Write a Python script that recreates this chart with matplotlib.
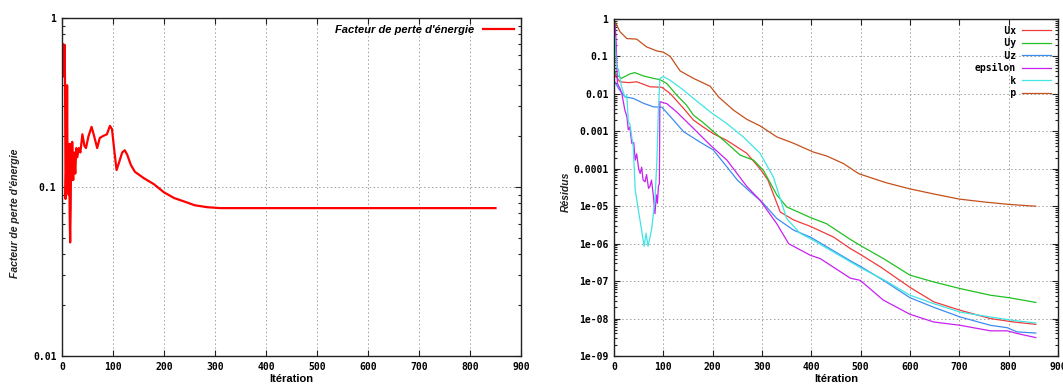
import numpy as np
import matplotlib
matplotlib.use("Agg")
import matplotlib.pyplot as plt
from matplotlib.ticker import LogLocator, FixedLocator, NullFormatter

# ---------------- data ----------------
# Left: energy loss factor
loss_it = [0, 1, 2, 3, 4, 5, 6, 7, 8, 9, 10, 11, 12, 13, 14, 15, 16, 17, 18, 19,
           20, 21, 22, 23, 24, 26, 28, 30, 33, 36, 40, 44, 47, 52, 58, 63, 69, 74,
           80, 88, 94, 98, 103, 107, 112, 118, 123, 128, 135, 143, 160, 180, 200,
           220, 240, 260, 284, 310, 400, 500, 600, 700, 800, 850]
loss_val = [0.60, 0.55, 0.50, 0.70, 0.45, 0.69, 0.40, 0.085, 0.12, 0.10, 0.40, 0.10,
            0.17, 0.09, 0.18, 0.07, 0.047, 0.075, 0.18, 0.11, 0.185, 0.13, 0.11,
            0.15, 0.16, 0.12, 0.17, 0.15, 0.17, 0.16, 0.205, 0.175, 0.17, 0.20,
            0.227, 0.20, 0.17, 0.195, 0.20, 0.205, 0.23, 0.22, 0.16, 0.126, 0.14,
            0.16, 0.165, 0.155, 0.135, 0.123, 0.113, 0.104, 0.093, 0.086, 0.082,
            0.078, 0.076, 0.075, 0.075, 0.075, 0.075, 0.075, 0.075, 0.075]

# Right: residuals
ux_it = [0, 3, 12, 30, 46, 60, 73, 97, 114, 141, 161, 181, 201, 229, 269, 296, 312,
         337, 364, 398, 445, 479, 499, 540, 600, 648, 702, 763, 810, 855]
ux_val = [0.04, 0.03, 0.021, 0.02, 0.021, 0.018, 0.0155, 0.015, 0.0102, 0.0041, 0.002,
          0.0013, 0.00087, 0.00057, 0.00026, 0.0001, 5e-5, 7e-6, 4.3e-6, 2.9e-6,
          1.5e-6, 7.4e-7, 5.2e-7, 2.4e-7, 6.8e-8, 2.8e-8, 1.66e-8, 1e-8, 8.1e-9, 7e-9]

uy_it = [0, 5, 15, 32, 42, 60, 80, 93, 107, 127, 147, 161, 181, 201, 229, 256, 283,
         303, 330, 350, 398, 431, 479, 499, 546, 600, 648, 702, 763, 801, 855]
uy_val = [0.045, 0.032, 0.026, 0.034, 0.037, 0.030, 0.026, 0.024, 0.019, 0.0093,
          0.005, 0.0027, 0.0017, 0.001, 0.00048, 0.00023, 0.00017, 9e-5, 2e-5, 9.6e-6,
          5e-6, 3.4e-6, 1.3e-6, 9e-7, 4e-7, 1.44e-7, 9.5e-8, 6.3e-8, 4.2e-8, 3.6e-8,
          2.7e-8]

uz_it = [0, 9, 22, 39, 60, 80, 97, 114, 141, 174, 201, 229, 250, 275, 300, 330, 364,
         398, 479, 499, 546, 600, 648, 702, 763, 797, 817, 855]
uz_val = [0.023, 0.014, 0.0083, 0.0076, 0.0056, 0.0045, 0.0044, 0.0025, 0.00098,
          0.00052, 0.00032, 0.000112, 5e-5, 2.5e-5, 1.3e-5, 4.7e-6, 2.3e-6, 1.5e-6,
          3.5e-7, 2.5e-7, 1.05e-7, 3.6e-8, 2e-8, 1.1e-8, 6.6e-9, 5.7e-9, 4.4e-9, 4.1e-9]

eps_it = [0, 2, 4, 7, 12, 16, 22, 26, 29, 32, 36, 40, 43, 46, 50, 53, 56, 59, 63, 66,
          70, 73, 76, 80, 83, 86, 88, 90, 92, 93, 100, 107, 127, 161, 195, 229, 269,
          296, 330, 354, 398, 418, 479, 499, 546, 600, 648, 702, 763, 797, 817, 855]
eps_val = [0.7, 0.8, 0.3, 0.019, 0.014, 0.01, 0.0037, 0.0025, 0.0011, 0.0013, 0.00048,
           0.0005, 0.00017, 0.00025, 0.0001, 7.5e-5, 1.1e-4, 5e-5, 4.5e-5, 7e-5, 3e-5,
           3.4e-5, 5e-5, 1.8e-5, 6.3e-6, 2e-5, 1.2e-5, 3.4e-5, 4e-5, 0.0062, 0.0058,
           0.0055, 0.0033, 0.0012, 0.00043, 0.00017, 3.4e-5, 1.45e-5, 3.4e-6, 1e-6,
           4.9e-7, 4e-7, 1.2e-7, 1.05e-7, 3.1e-8, 1.3e-8, 8.1e-9, 6.6e-9, 4.7e-9,
           4.7e-9, 4e-9, 3.1e-9]

k_it = [0, 2, 5, 9, 12, 15, 22, 26, 29, 32, 39, 43, 50, 56, 61, 65, 69, 76, 83, 87,
        90, 93, 100, 114, 141, 161, 195, 229, 262, 296, 323, 350, 377, 404, 499, 546,
        600, 648, 702, 763, 810, 855]
k_val = [0.4, 0.3, 0.053, 0.045, 0.027, 0.016, 0.0083, 0.009, 0.0018, 0.0016, 0.00039,
         2.7e-5, 7e-6, 2.3e-6, 8.5e-7, 1.9e-6, 8.5e-7, 2.3e-6, 1.45e-5, 0.00017,
         0.0037, 0.026, 0.029, 0.023, 0.0126, 0.0076, 0.0033, 0.0016, 0.00071,
         0.00026, 6e-5, 4.7e-6, 1.9e-6, 1.23e-6, 2.3e-7, 1.1e-7, 4.2e-8, 2.5e-8,
         1.48e-8, 1.1e-8, 8.9e-9, 7.6e-9]

p_it = [0, 3, 12, 26, 46, 66, 87, 100, 114, 134, 161, 195, 212, 242, 269, 296, 330,
        364, 404, 431, 465, 496, 550, 600, 650, 700, 750, 800, 855]
p_val = [0.69, 0.8, 0.46, 0.30, 0.29, 0.18, 0.14, 0.13, 0.10, 0.041, 0.026, 0.016,
         0.0083, 0.0037, 0.0021, 0.0014, 0.00071, 0.00048, 0.00028, 0.00022, 0.000138,
         7.4e-5, 4.3e-5, 2.9e-5, 2.1e-5, 1.55e-5, 1.3e-5, 1.12e-5, 1e-5]

series = [("Ux", ux_it, ux_val, "#f03c3c"),
          ("Uy", uy_it, uy_val, "#22c022"),
          ("Uz", uz_it, uz_val, "#3c8cf0"),
          ("epsilon", eps_it, eps_val, "#c820f0"),
          ("k", k_it, k_val, "#40e4e4"),
          ("p", p_it, p_val, "#c4501c")]

xticks = [0, 100, 200, 300, 400, 500, 600, 700, 800, 900]
left_yticks = [0.01, 0.1, 1]
left_ylabels = ["0.01", "0.1", "1"]
right_yticks = [1e-9, 1e-8, 1e-7, 1e-6, 1e-5, 1e-4, 1e-3, 1e-2, 1e-1, 1]
right_ylabels = ["1e-09", "1e-08", "1e-07", "1e-06", "1e-05", "0.0001", "0.001",
                 "0.01", "0.1", "1"]

# ---------------- figure ----------------
W, H = 1063, 387
fig = plt.figure(figsize=(W / 100, H / 100), dpi=100)

mono = dict(family="DejaVu Sans Mono", weight="bold", size=7)


def px(x0, y0, x1, y1):
    return [x0 / W, 1 - y1 / H, (x1 - x0) / W, (y1 - y0) / H]


def style_axes(ax, yticks, ylabels):
    ax.set_yscale("log")
    ax.set_xlim(0, 900)
    ax.set_xticks(xticks)
    ax.set_xticklabels([str(t) for t in xticks], **mono)
    ax.yaxis.set_major_locator(FixedLocator(yticks))
    ax.set_yticklabels(ylabels, **mono)
    ax.yaxis.set_minor_locator(LogLocator(base=10, subs=np.arange(2, 10), numticks=50))
    ax.yaxis.set_minor_formatter(NullFormatter())
    ax.tick_params(which="both", direction="in", top=True, right=True, color="#222222")
    ax.tick_params(which="major", length=4, width=0.8, pad=4)
    ax.tick_params(which="minor", length=2, width=0.8)
    ax.grid(True, which="major", linestyle=(0, (1.5, 2.5)), color="#a0a0a0", linewidth=0.7)
    for s in ax.spines.values():
        s.set_linewidth(1.0)
        s.set_color("#222222")


# Left chart
ax1 = fig.add_axes(px(62, 18, 521, 356))
ax1.plot(loss_it, loss_val, color="#ff0000", linewidth=1.6)
ax1.set_ylim(0.01, 1)
style_axes(ax1, left_yticks, left_ylabels)
ax1.set_xlabel("Itération", family="Liberation Sans", weight="bold", size=8, labelpad=2)
fig.text(15 / W, 1 - 213 / H, "Facteur de perte d'énergie", rotation=90,
         ha="center", va="center", family="Liberation Sans", style="italic",
         weight="bold", size=7.5, color="#222222")
ax1.legend(["Facteur de perte d'énergie"], loc="upper right", frameon=False,
           prop=dict(family="Liberation Sans", style="italic", weight="bold", size=8),
           markerfirst=False, handlelength=2.8, borderaxespad=0.2, handletextpad=0.8)

# Right chart
ax2 = fig.add_axes(px(614, 19, 1058, 356))
width = max(len(s[0]) for s in series)
for name, it, val, col in series:
    ax2.plot(it, val, color=col, linewidth=0.9, label=name.rjust(width))
ax2.set_ylim(1e-9, 1)
style_axes(ax2, right_yticks, right_ylabels)
ax2.set_xlabel("Itération", family="Liberation Sans", weight="bold", size=8, labelpad=2)
fig.text(566 / W, 1 - 192 / H, "Résidus", rotation=90, ha="center", va="center",
         family="Liberation Sans", style="italic", weight="bold", size=7.5,
         color="#222222")
ax2.legend(loc="upper right", frameon=False,
           prop=dict(family="DejaVu Sans Mono", weight="bold", size=7),
           markerfirst=False, handlelength=3.0, borderaxespad=0.3,
           labelspacing=0.25, handletextpad=0.6)

fig.savefig("out.png", dpi=100)
